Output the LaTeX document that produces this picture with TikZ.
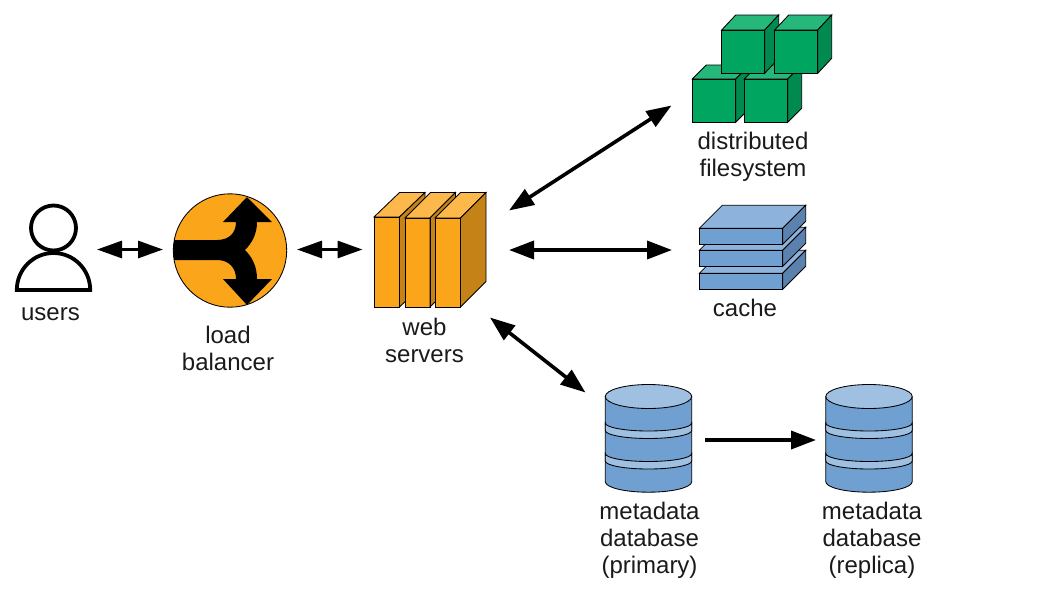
\documentclass[tikz,border=0pt]{standalone}
\usepackage{fontspec}
\setmainfont{Liberation Sans}
\usetikzlibrary{arrows.meta}
\definecolor{txt}{HTML}{1A1A1A}
\definecolor{orF}{RGB}{251,166,26}
\definecolor{orT}{RGB}{252,184,74}
\definecolor{orS}{RGB}{197,130,22}
\definecolor{grF}{RGB}{0,166,95}
\definecolor{grT}{RGB}{38,184,122}
\definecolor{grS}{RGB}{0,138,79}
\definecolor{blF}{RGB}{112,160,209}
\definecolor{blT}{RGB}{141,178,220}
\definecolor{blS}{RGB}{91,130,174}
\definecolor{dbL}{RGB}{160,192,226}
\tikzset{
  lbl/.style={font=\fontsize{24}{27}\selectfont,text=txt,align=center,inner sep=0pt},
  edge/.style={line width=0.85pt,draw=black,line join=miter},
  conn/.style={line width=3.6pt,draw=black,{Triangle[length=25pt,width=18pt]}-{Triangle[length=25pt,width=18pt]}},
  connsm/.style={line width=3pt,draw=black,{Triangle[length=25pt,width=17pt]}-{Triangle[length=25pt,width=17pt]}},
  connone/.style={line width=3.6pt,draw=black,-{Triangle[length=25pt,width=18pt]}}
}
% x y w h dx dy front top side
\newcommand{\boxicon}[9]{%
  \fill[#7] (#1,#2) rectangle ++(#3,#4);
  \draw[edge,fill=#8] (#1,#2) -- ++(#5,-#6) -- ++(#3,0) -- ++(-#5,#6) -- cycle;
  \draw[edge,fill=#9] (#1+#3,#2) -- ++(#5,-#6) -- ++(0,#4) -- ++(-#5,#6) -- cycle;
  \draw[edge] (#1,#2) rectangle ++(#3,#4);
}
\newcommand{\dbicon}[1]{%
  \begin{scope}[xshift=#1pt]
    \draw[edge,fill=blF] (605.3,396.7) -- (605.3,481.7) arc[start angle=180,end angle=0,x radius=43.2,y radius=10.5] -- (691.7,396.7) -- cycle;
    \draw[edge,fill=dbL] (605.3,423) arc[start angle=180,end angle=0,x radius=43.2,y radius=8] -- (691.7,430.5) arc[start angle=0,end angle=180,x radius=43.2,y radius=8] -- cycle;
    \draw[edge,fill=dbL] (605.3,453.5) arc[start angle=180,end angle=0,x radius=43.2,y radius=8] -- (691.7,461) arc[start angle=0,end angle=180,x radius=43.2,y radius=8] -- cycle;
    \draw[edge,fill=dbL] (648.5,396.5) circle[x radius=43.2,y radius=12];
  \end{scope}
}
\begin{document}
\begin{tikzpicture}[x=1pt,y=1pt,yscale=-1]
\useasboundingbox (0,0) rectangle (1058,595);
% users
\draw[line width=3.8pt,fill=white] (53.5,228) circle[radius=22.5];
\draw[line width=3.8pt,fill=white,line join=miter] (16.8,290) arc[start angle=180,end angle=0,x radius=36.7,y radius=-37] -- cycle;
\node[lbl] (users) at (50.5,314) {users};
% load balancer
\draw[edge,fill=orF] (230,250.5) circle[radius=56.7];
\fill[black] (174,240) -- (217,240) .. controls (229,240) and (236,233) .. (236,222)
  -- (223,222) -- (247,197) -- (272,222) -- (257,222)
  .. controls (257,234) and (252,243) .. (245,250)
  .. controls (252,257) and (257,266) .. (257,279)
  -- (272,279) -- (247,305) -- (223,279) -- (236,279)
  .. controls (236,268) and (229,260) .. (217,260) -- (174,260) -- cycle;
\node[lbl] (lb) at (228,348.5) {load\\balancer};
% web servers
\boxicon{374}{217}{25.5}{90}{25.5}{24.5}{orF}{orT}{orS}
\boxicon{405}{218}{25}{89}{25.5}{25.5}{orF}{orT}{orS}
\boxicon{435}{218}{25.5}{89}{25.5}{25.5}{orF}{orT}{orS}
\node[lbl] (web) at (424.5,340.5) {web\\servers};
% filesystem
\boxicon{692.3}{79}{43.4}{43.3}{14}{14}{grF}{grT}{grS}
\boxicon{744.3}{79}{43.4}{43.3}{14}{14}{grF}{grT}{grS}
\boxicon{721.7}{30}{43}{43.3}{14}{15}{grF}{grT}{grS}
\boxicon{774.7}{30}{43}{43.3}{14}{15}{grF}{grT}{grS}
\node[lbl] (fs) at (753,157) {distributed\\filesystem};
% cache
\boxicon{699.3}{273.3}{83.4}{16}{23}{23}{blF}{blT}{blS}
\boxicon{699.3}{250.3}{83.4}{16}{23}{23}{blF}{blT}{blS}
\boxicon{699.3}{228.3}{83.4}{16}{23}{23}{blF}{blT}{blS}
\node[lbl] (cache) at (745,308) {cache};
% databases
\dbicon{0}
\dbicon{220.5}
\node[lbl] (dbp) at (649.5,540.5) {metadata\\database\\(primary)};
\node[lbl] (dbr) at (872,540.5) {metadata\\database\\(replica)};
% connector ends
\coordinate (uE) at (97,249.5);
\coordinate (lW) at (163,249.5);
\coordinate (lE) at (297,249.5);
\coordinate (wW) at (362.5,249.5);
\coordinate (wNE) at (509,210.5);
\coordinate (fsW) at (671.5,105.5);
\coordinate (wE) at (509,250);
\coordinate (cW) at (672,250);
\coordinate (wSE) at (490,317.5);
\coordinate (dbN) at (585.5,392.5);
\coordinate (dbE) at (705,440);
\coordinate (rW) at (816,440);
\draw[connsm] (uE) -- (lW);
\draw[connsm] (lE) -- (wW);
\draw[conn] (wNE) -- (fsW);
\draw[conn] (wE) -- (cW);
\draw[conn] (wSE) -- (dbN);
\draw[connone] (dbE) -- (rW);
\end{tikzpicture}
\end{document}
